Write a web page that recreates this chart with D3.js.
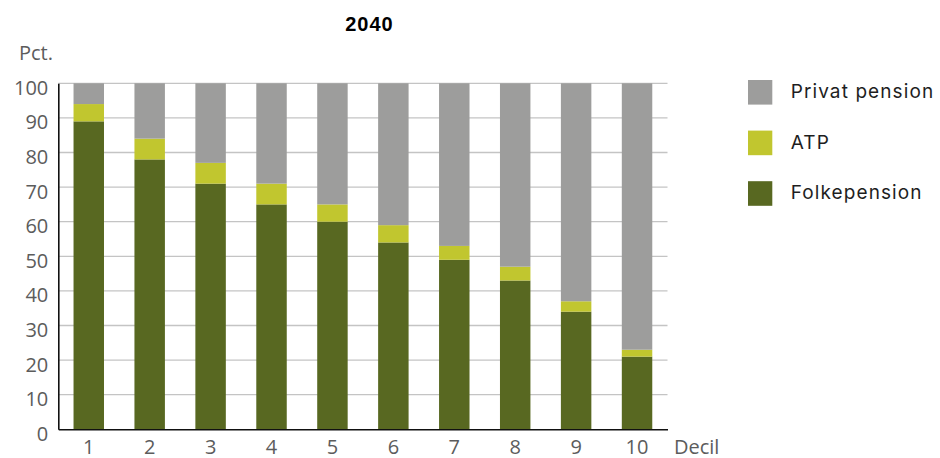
<!DOCTYPE html>
<html>
<head>
<meta charset="utf-8">
<script src="https://cdn.jsdelivr.net/npm/d3@7"></script>
<style>
  html, body { margin: 0; padding: 0; background: #fff; }
  svg { display: block; }
</style>
</head>
<body>
<svg id="chart" width="940" height="458"></svg>
<script>
// Pension composition by income decile, 2040 (percent of total)
const deciles = ["1", "2", "3", "4", "5", "6", "7", "8", "9", "10"];
const folkepension = [89, 78, 71, 65, 60, 54, 49, 43, 34, 21];
const atp = [5, 6, 6, 6, 5, 5, 4, 4, 3, 2];
const privatPension = [6, 16, 23, 29, 35, 41, 47, 53, 63, 77];
const yTicks = [0, 10, 20, 30, 40, 50, 60, 70, 80, 90, 100];

const seriesKeys = ["Folkepension", "ATP", "Privat pension"];
const colors = { "Folkepension": "#586821", "ATP": "#c1c62f", "Privat pension": "#9d9d9c" };

const rows = deciles.map((d, i) => ({
  decil: d,
  "Folkepension": folkepension[i],
  "ATP": atp[i],
  "Privat pension": privatPension[i]
}));

const svg = d3.select("#chart");
const plot = { left: 58.3, right: 667.5, top: 83.3, bottom: 429.3 };

const x = d3.scaleBand().domain(deciles).range([plot.left, plot.right]).paddingInner(0.5).paddingOuter(0.25);
const y = d3.scaleLinear().domain([0, 100]).range([plot.bottom, plot.top]);

// Gridlines
svg.append("g").selectAll("line").data(yTicks.filter(t => t > 0)).join("line")
  .attr("x1", plot.left).attr("x2", plot.right)
  .attr("y1", d => y(d)).attr("y2", d => y(d))
  .attr("stroke", "#c4c4c4").attr("stroke-width", 1.3);

// Stacked bars
const stack = d3.stack().keys(seriesKeys)(rows);
svg.append("g").selectAll("g").data(stack).join("g")
  .attr("fill", s => colors[s.key])
  .selectAll("rect").data(s => s).join("rect")
  .attr("x", d => x(d.data.decil))
  .attr("width", x.bandwidth())
  .attr("y", d => y(d[1]))
  .attr("height", d => y(d[0]) - y(d[1]));

// Axes
const tickFont = "'Open Sans', sans-serif";
const yAxis = svg.append("g").attr("transform", `translate(${plot.left},0)`)
  .call(d3.axisLeft(y).tickValues(yTicks).tickSize(0).tickPadding(10));
yAxis.select(".domain").attr("stroke", "#111").attr("stroke-width", 1.6);
yAxis.selectAll("text")
  .attr("font-family", tickFont).attr("font-size", 20).attr("fill", "#5c5c5c")
  .attr("dy", "0.55em");

const xAxis = svg.append("g").attr("transform", `translate(0,${plot.bottom})`)
  .call(d3.axisBottom(x).tickSize(0).tickPadding(0));
xAxis.select(".domain").attr("stroke", "#111").attr("stroke-width", 1.6);
xAxis.selectAll("text")
  .attr("font-family", tickFont).attr("font-size", 20).attr("fill", "#5c5c5c")
  .attr("dy", null).attr("y", 25);

// Axis titles
svg.append("text").attr("x", 19).attr("y", 59.5)
  .attr("font-family", tickFont).attr("font-size", 20).attr("fill", "#5c5c5c")
  .text("Pct.");
svg.append("text").attr("x", 674).attr("y", 454.3)
  .attr("font-family", tickFont).attr("font-size", 20).attr("fill", "#5c5c5c")
  .text("Decil");

// Title
svg.append("text").attr("x", 369.5).attr("y", 30.7).attr("text-anchor", "middle")
  .attr("font-family", "'Liberation Sans', Arial, sans-serif").attr("font-weight", "bold")
  .attr("font-size", 20).attr("letter-spacing", 1).attr("fill", "#000")
  .text("2040");

// Legend
const legendOrder = ["Privat pension", "ATP", "Folkepension"];
const legend = svg.append("g").selectAll("g").data(legendOrder).join("g")
  .attr("transform", (d, i) => `translate(748,${80 + i * 50.6})`);
legend.append("rect").attr("width", 24.3).attr("height", 24.6).attr("fill", d => colors[d]);
legend.append("text").attr("x", 42.7).attr("y", 18)
  .attr("font-family", "Inter, sans-serif").attr("font-size", 19)
  .attr("letter-spacing", 1.1).attr("fill", "#1e1e1e")
  .text(d => d);
</script>
</body>
</html>
